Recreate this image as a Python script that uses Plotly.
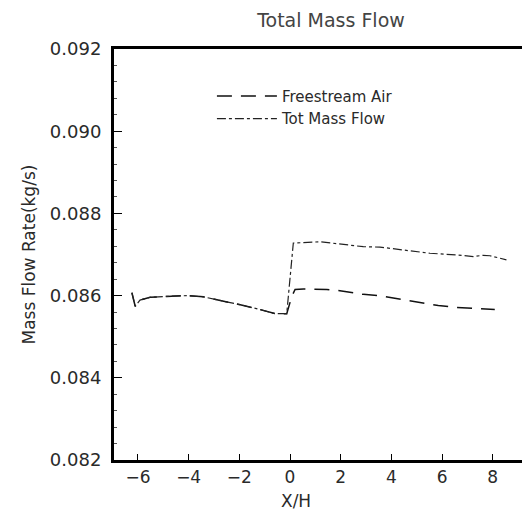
import plotly.graph_objects as go

# Shared upstream part (both curves coincide for X/H < 0)
x_up = [-6.24, -6.11, -5.92, -5.52, -4.86, -4.07, -3.42, -2.76, -1.84, -1.18, -0.59, -0.20, -0.13]
y_up = [0.08607, 0.08574, 0.08589, 0.08596, 0.08598, 0.08600, 0.08597, 0.08589, 0.08576, 0.08566, 0.08556, 0.08556, 0.08556]

# Freestream Air downstream part
x_free = [0.07, 0.20, 0.53, 1.45, 1.97, 2.89, 3.48, 4.40, 4.99, 5.85, 6.57, 7.36, 8.08]
y_free = [0.08598, 0.08615, 0.08616, 0.08615, 0.08612, 0.08603, 0.08600, 0.08590, 0.08585, 0.08576, 0.08571, 0.08568, 0.08566]

# Total Mass Flow downstream part
x_tot = [0.13, 0.20, 1.18, 1.97, 2.89, 3.55, 4.60, 5.52, 6.57, 7.23, 7.62, 7.89, 8.54]
y_tot = [0.08728, 0.08728, 0.08731, 0.08726, 0.08719, 0.08718, 0.08710, 0.08703, 0.08699, 0.08695, 0.08698, 0.08697, 0.08687]

x_ticks = [-6, -4, -2, 0, 2, 4, 6, 8]
y_ticks = [0.082, 0.084, 0.086, 0.088, 0.090, 0.092]
y_tick_labels = ["0.082", "0.084", "0.086", "0.088", "0.090", "0.092"]

FONT = "DejaVu Sans"
TXT = "#2a2a2a"

fig = go.Figure()
fig.add_trace(go.Scatter(
    x=x_up + x_free, y=y_up + y_free, mode="lines", name="Freestream Air",
    line=dict(color="#111111", width=1.5, dash="15px,9px"),
))
fig.add_trace(go.Scatter(
    x=x_up + x_tot, y=y_up + y_tot, mode="lines", name="Tot Mass Flow",
    line=dict(color="#222222", width=1.2, dash="dashdot"),
))

fig.update_layout(
    width=522, height=521,
    margin=dict(l=114, r=0, t=49, b=61),
    paper_bgcolor="white", plot_bgcolor="white",
    font=dict(family=FONT, color=TXT),
    title=dict(text="Total Mass Flow", x=331/522, xanchor="center", xref="container",
               y=1 - 20/521, yanchor="middle", yref="container",
               font=dict(size=19, family=FONT, color="#444444")),
    showlegend=True,
    legend=dict(x=0.24, y=0.925, xanchor="left", yanchor="top",
                bgcolor="rgba(0,0,0,0)", font=dict(size=15, family=FONT, color=TXT),
                tracegroupgap=0, itemwidth=60),
    xaxis=dict(range=[-6.946, 9.154], tickvals=x_ticks, ticks="inside", ticklen=6,
               tickcolor="black", tickwidth=1, showgrid=False, zeroline=False,
               showline=True, linecolor="black", linewidth=3, mirror=True,
               ticklabelstandoff=0, tickfont=dict(size=17, family=FONT, color=TXT)),
    yaxis=dict(range=[0.082, 0.092], tickvals=y_ticks, ticktext=y_tick_labels,
               ticks="inside", ticklen=8, tickcolor="black", tickwidth=1,
               minor=dict(dtick=0.0004, ticks="inside", ticklen=3, tickcolor="#555555"),
               showgrid=False, zeroline=False, showline=True, linecolor="black",
               linewidth=3, mirror=False, ticklabelstandoff=6,
               tickfont=dict(size=18, family=FONT, color=TXT)),
    annotations=[
        dict(text="X/H", x=(296 - 114) / 408, y=-(501 - 460) / 411,
             xref="paper", yref="paper",
             xanchor="center", yanchor="middle", showarrow=False,
             font=dict(size=17, family=FONT, color=TXT)),
        dict(text="Mass Flow Rate(kg/s)", textangle=-90, x=(28 - 114) / 408, y=0.5,
             xref="paper", yref="paper", xanchor="center", yanchor="middle",
             showarrow=False, font=dict(size=17, family=FONT, color=TXT)),
    ],
)

fig.write_html("out.html")
